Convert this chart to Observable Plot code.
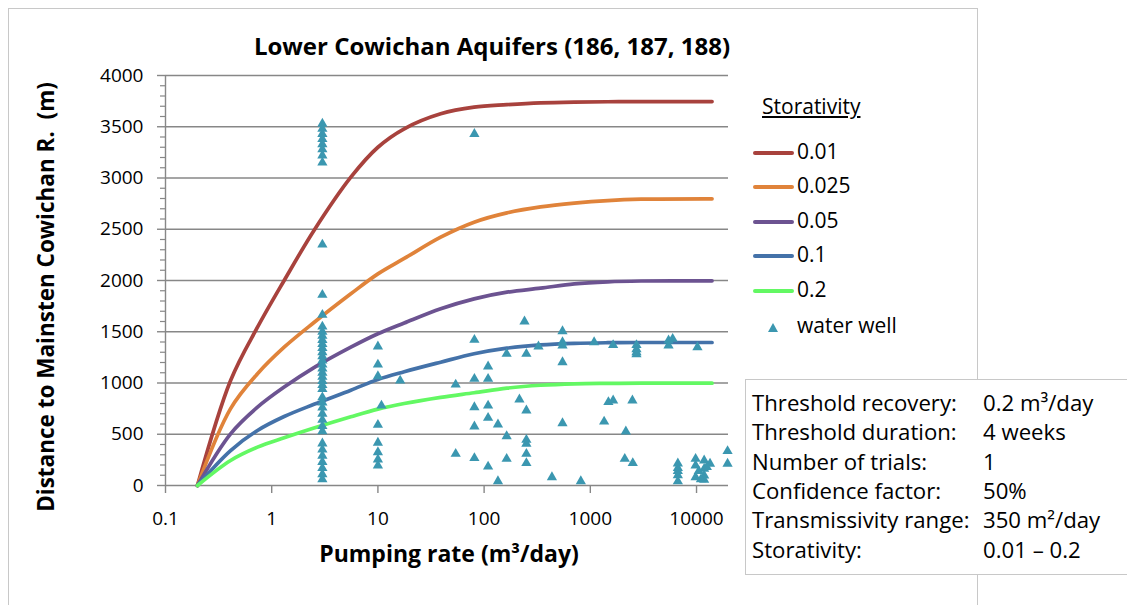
<!DOCTYPE html>
<html><head><meta charset="utf-8">
<script src="https://cdn.jsdelivr.net/npm/d3@7"></script>
<script src="https://cdn.jsdelivr.net/npm/@observablehq/plot@0.6"></script>
<style>
body{margin:0;background:#fff;}
#wrap{position:relative;width:1127px;height:605px;overflow:hidden;font-family:"Open Sans",Lato,sans-serif;color:#000;}
#wrap svg{position:absolute;left:0;top:0;}
.frame{position:absolute;left:8px;top:8px;width:968px;height:640px;border:1px solid #c8c8c8;}
.title{position:absolute;left:492px;top:45px;transform:translate(-50%,-50%);font-weight:bold;font-size:24px;white-space:nowrap;}
.ytitle{position:absolute;left:45px;top:297px;transform:translate(-50%,-50%) rotate(-90deg);font-weight:bold;font-size:22.5px;white-space:pre;}
.xtitle{position:absolute;left:449px;top:553px;transform:translate(-50%,-50%);font-weight:bold;font-size:23px;white-space:nowrap;}
.lgtitle{position:absolute;left:762px;top:106px;transform:translateY(-50%);font-size:21px;text-decoration:underline;}
.lgitem{position:absolute;left:753px;font-size:21px;height:30px;line-height:30px;white-space:nowrap;}
.lgitem .sw{display:inline-block;width:41px;height:4px;border-radius:2px;vertical-align:middle;margin-right:3px;}
.lgitem .tri{display:inline-block;width:0;height:0;border-left:5px solid transparent;border-right:5px solid transparent;border-bottom:9px solid #3B97B0;margin-left:15px;margin-right:19px;vertical-align:middle;}
.info{position:absolute;left:745px;top:379px;width:400px;height:194px;border:1px solid #c8c8c8;background:#fff;font-size:22.2px;}
.info .row{position:absolute;left:6px;height:29px;line-height:29px;white-space:nowrap;}
.info .v{position:absolute;left:231px;}
</style></head><body><div id="wrap"></div>
<script>
// ---- data ----
const storativity = ["0.01", "0.025", "0.05", "0.1", "0.2"];
const seriesColors = ["#A8423D", "#E0833A", "#6C5391", "#4472A9", "#63F863"];
const curveRate = [0.2, 0.41, 0.735, 1.31, 2.5, 5.56, 10, 17.7, 39, 80.5, 164, 340, 707, 1460, 3000, 14000];
const dist001  = [0, 1024, 1544, 2000, 2488, 3008, 3300, 3480, 3626, 3691, 3715, 3733, 3741, 3744, 3745, 3746];
const dist0025 = [0, 750, 1090, 1349, 1590, 1870, 2065, 2215, 2423, 2569, 2660, 2718, 2755, 2780, 2793, 2797];
const dist005  = [0, 504, 764, 960, 1150, 1349, 1480, 1585, 1724, 1821, 1886, 1925, 1967, 1987, 1995, 1997];
const dist01   = [0, 341, 537, 673, 792, 930, 1035, 1110, 1203, 1285, 1340, 1372, 1387, 1393, 1395, 1395];
const dist02   = [0, 244, 374, 465, 560, 670, 745, 800, 860, 905, 950, 978, 992, 996, 998, 998];
const curveDist = [dist001, dist0025, dist005, dist01, dist02];

const wellRate = [
  3,3,3,3,3,3,3,3,3,3,3,3,3,3,3,3,3,3,3,3,3,3,3,3,3,3,3,3,3,3,3,3,3,3,3,3,3,3,3,3,3,
  10,10,10,10,10,10,10,10,10.8,16.2,
  54,54,81,81,81,81,81,81,109,109,109,109,109,135,135,163,163,163,215,240,
  250,250,250,250,250,250,325,435,547,547,547,547,547,814,1086,1349,1480,1640,1640,
  2160,2110,2490,2510,2720,2720,2720,2720,5450,5450,5960,
  6670,6670,6670,6670,6670,9800,9800,9800,11800,11800,11800,11800,13400,10500,11000,12500,
  10200,19600,19600
];
const wellDist = [
  3530,3480,3430,3380,3330,3280,3220,3150,2350,1860,1665,1550,1500,1460,1420,1380,1340,1300,1260,1220,1180,1140,1100,1060,1020,980,940,860,810,760,700,640,580,530,410,350,290,230,170,110,60,
  1356,1180,1066,592,417,325,254,195,780,1024,
  985,309,3430,1421,1041,764,576,267,1161,1041,780,660,185,595,42,1285,481,260,839,1600,
  1285,732,446,407,309,218,1356,81,1505,1398,1366,1203,608,42,1398,624,813,829,1370,
  527,260,829,218,1370,1330,1300,1280,1366,1415,1431,
  215,170,140,100,40,260,195,81,244,163,98,55,212,140,60,180,
  1349,335,212
];

const yTicks = [0, 500, 1000, 1500, 2000, 2500, 3000, 3500, 4000];
const yMinorTicks = d3.range(0, 4001, 100).filter(v => v % 500 !== 0);
const xTicks = [0.1, 1, 10, 100, 1000, 10000];
const xTickLabels = ["0.1", "1", "10", "100", "1000", "10000"];

const titleText = "Lower Cowichan Aquifers (186, 187, 188)";
const yTitle = "Distance to Mainsten Cowichan R.  (m)";
const xTitle = "Pumping rate (m³/day)";
const legendTitle = "Storativity";
const wellLabel = "water well";
const infoLabels = ["Threshold recovery:", "Threshold duration:", "Number of trials:", "Confidence factor:", "Transmissivity range:", "Storativity:"];
const infoValues = ["0.2 m³/day", "4 weeks", "1", "50%", "350 m²/day", "0.01 – 0.2"];

// ---- build tables ----
const curves = [];
storativity.forEach((s, i) => curveRate.forEach((r, j) => curves.push({s, rate: r, dist: curveDist[i][j]})));
const wells = wellRate.map((r, i) => ({rate: r, dist: wellDist[i]}));

const grid = "#878787";
const plot = Plot.plot({
  width: 1127, height: 605,
  marginLeft: 165, marginRight: 399, marginTop: 75, marginBottom: 120,
  style: {fontFamily: "'Open Sans', Lato, sans-serif", fontSize: "19px", background: "transparent", color: "#000"},
  x: {type: "log", domain: [0.1, 20000], label: null},
  y: {domain: [0, 4000], label: null},
  color: {domain: storativity, range: seriesColors},
  marks: [
    Plot.gridY(yTicks, {stroke: grid, strokeOpacity: 1, strokeWidth: 1.4}),
    Plot.ruleX([0.1], {stroke: grid, strokeWidth: 1.4}),
    Plot.axisY(yMinorTicks, {tickSize: 5, stroke: grid, strokeWidth: 1.2, tickFormat: () => "", label: null}),
    Plot.axisY(yTicks, {tickSize: 8, tickPadding: 14, stroke: grid, strokeWidth: 1.4, fill: "#000", fontSize: 19,
      tickFormat: d => String(d), label: null}),
    Plot.axisX(xTicks, {tickSize: 8, tickPadding: 18, stroke: grid, strokeWidth: 1.4, fill: "#000", fontSize: 19,
      tickFormat: d => xTickLabels[xTicks.indexOf(d)], label: null}),
    Plot.line(curves, {x: "rate", y: "dist", z: "s", stroke: "s", strokeWidth: 3.7, curve: "catmull-rom", strokeLinecap: "round"}),
    Plot.dot(wells, {x: "rate", y: "dist", symbol: "triangle", r: 3.8, fill: "#3B97B0", stroke: "none"})
  ]
});

const wrap = document.getElementById("wrap");
const frame = document.createElement("div"); frame.className = "frame"; wrap.appendChild(frame);
wrap.appendChild(plot);
function addDiv(cls, text, style) { const d = document.createElement("div"); d.className = cls; if (text != null) d.textContent = text; if (style) Object.assign(d.style, style); wrap.appendChild(d); return d; }
addDiv("title", titleText);
addDiv("ytitle", yTitle);
addDiv("xtitle", xTitle);
addDiv("lgtitle", legendTitle);
const lgY = [151, 185, 220, 254, 289];
storativity.forEach((s, i) => {
  const it = addDiv("lgitem", null, {top: (lgY[i] - 15) + "px"});
  const sw = document.createElement("span"); sw.className = "sw"; sw.style.background = seriesColors[i]; it.appendChild(sw);
  it.appendChild(document.createTextNode(s));
});
const wi = addDiv("lgitem", null, {top: (325 - 15) + "px", left: "753px"});
const tri = document.createElement("span"); tri.className = "tri"; wi.appendChild(tri);
wi.appendChild(document.createTextNode(wellLabel));
const info = addDiv("info");
infoLabels.forEach((l, i) => {
  const r = document.createElement("div"); r.className = "row"; r.style.top = (8 + i * 29.3) + "px";
  r.textContent = l;
  const v = document.createElement("span"); v.className = "v"; v.textContent = infoValues[i]; r.appendChild(v);
  info.appendChild(r);
});
</script></body></html>
